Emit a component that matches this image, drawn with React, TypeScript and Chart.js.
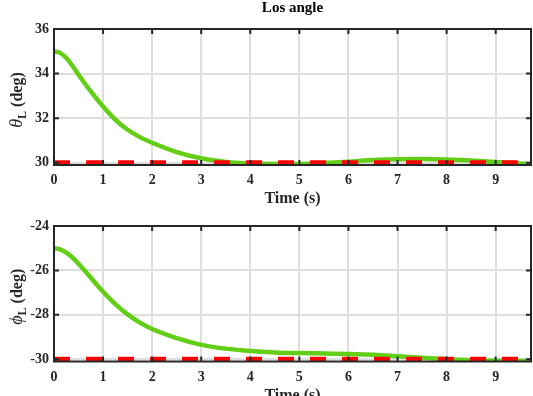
import { useEffect, useRef } from "react";
import { Chart, registerables } from "chart.js";

Chart.register(...registerables);

// Simulation time samples (s)
const timeS = [0, 0.125, 0.25, 0.375, 0.5, 0.75, 1, 1.25, 1.5, 1.75, 2, 2.5, 3, 3.5, 4, 4.5, 5, 5.5, 6, 6.5, 7, 7.5, 8, 8.5, 9, 9.5, 9.72];

// LOS elevation angle theta_L (deg)
const thetaL = [35, 34.93, 34.7, 34.35, 33.95, 33.2, 32.52, 31.93, 31.48, 31.15, 30.9, 30.48, 30.2, 30.04, 29.97, 29.95, 29.95, 29.99, 30.05, 30.12, 30.16, 30.17, 30.15, 30.1, 30.04, 29.97, 29.94];

// LOS azimuth angle phi_L (deg)
const phiL = [-25, -25.05, -25.2, -25.42, -25.7, -26.33, -26.96, -27.52, -27.98, -28.35, -28.64, -29.05, -29.35, -29.52, -29.63, -29.69, -29.72, -29.74, -29.76, -29.8, -29.86, -29.93, -30.0, -30.04, -30.07, -30.08, -30.08];

// Desired (commanded) LOS angles (deg)
const thetaRef = 30;
const phiRef = -30;

const xTicks = [0, 1, 2, 3, 4, 5, 6, 7, 8, 9];
const thetaTicks = [30, 32, 34, 36];
const phiTicks = [-30, -28, -26, -24];

const T_END = 9.72;
const GREEN = "#62cf16";
const RED = "#ff0000";
const INK = "#262626";
const GRID = "#dedede";
const SERIF = '"Liberation Serif", "Times New Roman", serif';

type PanelSpec = {
  values: number[];
  ref: number;
  yTicks: number[];
  yMin: number;
  yMax: number;
  symbol: string;
  title?: string;
  padTop: number;
  xAxisHeight: number;
  xTitlePad: number;
};

// Box around the plot area with inward tick marks on all four sides
const boxPlugin = {
  id: "axesBox",
  afterDatasetsDraw(chart: any) {
    const { ctx, chartArea, scales } = chart;
    const { left, right, top, bottom } = chartArea;
    const tl = 5;
    ctx.save();
    ctx.strokeStyle = INK;
    ctx.lineWidth = 2;
    ctx.lineCap = "butt";
    ctx.strokeRect(left, top, right - left, bottom - top);
    ctx.beginPath();
    for (const t of scales.x.ticks) {
      const px = scales.x.getPixelForValue(t.value);
      ctx.moveTo(px, bottom);
      ctx.lineTo(px, bottom - tl);
      ctx.moveTo(px, top);
      ctx.lineTo(px, top + tl);
    }
    for (const t of scales.y.ticks) {
      const py = scales.y.getPixelForValue(t.value);
      ctx.moveTo(left, py);
      ctx.lineTo(left + tl, py);
      ctx.moveTo(right, py);
      ctx.lineTo(right - tl, py);
    }
    ctx.stroke();
    ctx.restore();
  },
};

// Rotated y-axis label: italic Greek symbol, subscript L, then the unit
const yLabelPlugin = {
  id: "yLabel",
  afterDraw(chart: any, _args: any, opts: any) {
    const { ctx, chartArea } = chart;
    const cy = (chartArea.top + chartArea.bottom) / 2 + 3;
    const fSym = `italic 18px ${SERIF}`;
    const fSub = `bold 12px ${SERIF}`;
    const fUnit = `bold 16px ${SERIF}`;
    ctx.save();
    ctx.translate(17, cy);
    ctx.rotate(-Math.PI / 2);
    ctx.fillStyle = INK;
    ctx.textBaseline = "alphabetic";
    ctx.textAlign = "left";
    ctx.font = fSym;
    const wSym = ctx.measureText(opts.symbol).width;
    ctx.font = fSub;
    const wSub = ctx.measureText("L").width;
    ctx.font = fUnit;
    const unit = " (deg)";
    const wUnit = ctx.measureText(unit).width;
    let u = -(wSym + wSub + wUnit) / 2;
    ctx.font = fSym;
    ctx.fillText(opts.symbol, u, 5);
    u += wSym;
    ctx.font = fSub;
    ctx.fillText("L", u, 9);
    u += wSub;
    ctx.font = fUnit;
    ctx.fillText(unit, u, 5);
    ctx.restore();
  },
};

// Figure title above the upper panel
const figTitlePlugin = {
  id: "figTitle",
  afterDraw(chart: any, _args: any, opts: any) {
    if (!opts || !opts.text) return;
    const { ctx, chartArea } = chart;
    ctx.save();
    ctx.fillStyle = "#000000";
    ctx.font = `bold 15px ${SERIF}`;
    ctx.textAlign = "center";
    ctx.textBaseline = "middle";
    ctx.fillText(opts.text, (chartArea.left + chartArea.right) / 2, 8);
    ctx.restore();
  },
};

function Panel({ spec, top }: { spec: PanelSpec; top: number }) {
  const ref = useRef<HTMLCanvasElement | null>(null);

  useEffect(() => {
    if (!ref.current) return;
    const tickFont = { family: SERIF, size: 14, weight: "bold" as const };
    const chart = new Chart(ref.current, {
      type: "line",
      data: {
        datasets: [
          {
            data: [
              { x: 0, y: spec.ref },
              { x: T_END, y: spec.ref },
            ],
            borderColor: RED,
            borderWidth: 5,
            borderDash: [16, 16],
            pointRadius: 0,
            tension: 0,
          },
          {
            data: timeS.map((t, i) => ({ x: t, y: spec.values[i] })),
            borderColor: GREEN,
            borderWidth: 4.5,
            pointRadius: 0,
            cubicInterpolationMode: "monotone",
          },
        ],
      },
      options: {
        animation: false,
        responsive: false,
        maintainAspectRatio: false,
        events: [],
        layout: { padding: { top: spec.padTop, right: 2, left: 0, bottom: 0 } },
        plugins: {
          legend: { display: false },
          tooltip: { enabled: false },
          title: { display: false },
          yLabel: { symbol: spec.symbol },
          figTitle: { text: spec.title || "" },
        } as any,
        scales: {
          x: {
            type: "linear",
            min: 0,
            max: T_END,
            afterBuildTicks: (s: any) => {
              s.ticks = xTicks.map((v) => ({ value: v }));
            },
            afterFit: (s: any) => {
              s.height = spec.xAxisHeight;
            },
            ticks: {
              autoSkip: false,
              maxRotation: 0,
              padding: 7,
              color: INK,
              font: tickFont,
              callback: (v: any) => String(v),
            },
            grid: { color: GRID, lineWidth: 2, drawTicks: false },
            border: { display: false },
            title: {
              display: true,
              text: "Time (s)",
              color: INK,
              font: { family: SERIF, size: 16, weight: "bold" },
              padding: { top: 0, bottom: spec.xTitlePad },
            },
          },
          y: {
            type: "linear",
            min: spec.yMin,
            max: spec.yMax,
            afterBuildTicks: (s: any) => {
              s.ticks = spec.yTicks.map((v) => ({ value: v }));
            },
            afterFit: (s: any) => {
              s.width = 54;
            },
            ticks: {
              padding: 5,
              color: INK,
              font: tickFont,
              callback: (v: any) => String(v),
            },
            grid: { color: GRID, lineWidth: 2, drawTicks: false },
            border: { display: false },
          },
        },
      },
      plugins: [boxPlugin, yLabelPlugin, figTitlePlugin],
    } as any);
    return () => chart.destroy();
  }, [spec]);

  return (
    <canvas
      ref={ref}
      width={533}
      height={215}
      style={{ position: "absolute", left: 0, top, width: 533, height: 215 }}
    />
  );
}

const thetaPanel: PanelSpec = {
  values: thetaL,
  ref: thetaRef,
  yTicks: thetaTicks,
  yMin: 29.9,
  yMax: 36,
  symbol: "θ",
  title: "Los angle",
  padTop: 29,
  xAxisHeight: 50,
  xTitlePad: 6.5,
};

const phiPanel: PanelSpec = {
  values: phiL,
  ref: phiRef,
  yTicks: phiTicks,
  yMin: -30.1,
  yMax: -24,
  symbol: "ϕ",
  padTop: 28,
  xAxisHeight: 51.5,
  xTitlePad: 8,
};

export default function App() {
  useEffect(() => {
    document.body.style.margin = "0";
  }, []);
  return (
    <div style={{ position: "relative", width: 533, height: 396, overflow: "hidden", background: "#ffffff" }}>
      <Panel spec={thetaPanel} top={0} />
      <Panel spec={phiPanel} top={198} />
    </div>
  );
}
